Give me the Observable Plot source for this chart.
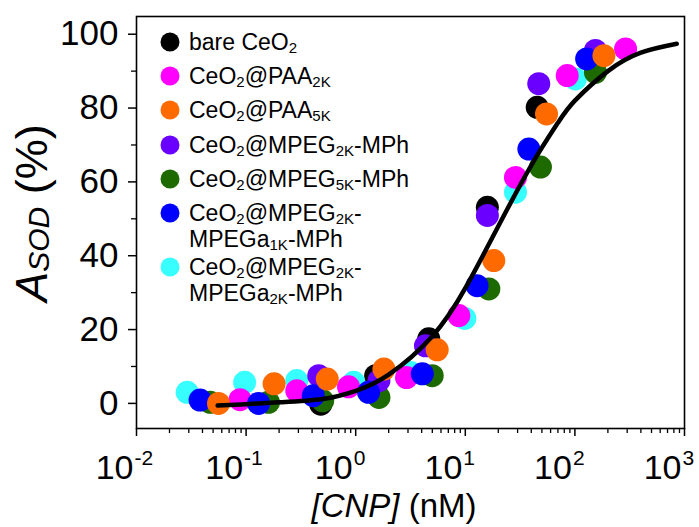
<!DOCTYPE html>
<html>
<head>
<meta charset="utf-8">
<script src="https://cdn.jsdelivr.net/npm/d3@7"></script>
<script src="https://cdn.jsdelivr.net/npm/@observablehq/plot@0.6"></script>
<style>
  html, body { margin: 0; padding: 0; background: #fff; }
  #chart { width: 699px; height: 527px; }
</style>
</head>
<body>
<div id="chart"></div>
<script>
// ---- Data ----
// concentrations in nM, A_SOD in %
const bareX   = [0.48, 1.52, 4.64, 15.9, 45.3];
const bareY   = [-0.2, 7.5, 17.5, 53.1, 80.2];
const paa2kX  = [0.088, 0.29, 0.86, 2.91, 8.73, 28.7, 85.1, 290];
const paa2kY  = [1.0, 3.4, 4.5, 7.0, 23.8, 61.2, 88.8, 96.0];
const paa5kX  = [0.056, 0.18, 0.55, 1.81, 5.54, 18.2, 55.1, 184];
const paa5kY  = [0.0, 5.3, 6.6, 9.3, 14.5, 38.7, 78.4, 94.2];
const mpeg2kX = [0.46, 1.63, 4.33, 15.9, 46.8, 154];
const mpeg2kY = [7.5, 6.2, 15.6, 50.9, 86.6, 95.6];
const mpeg5kX = [0.047, 0.16, 0.50, 1.63, 4.99, 16.4, 48.5, 154];
const mpeg5kY = [0.3, 0.3, 0.7, 1.6, 7.5, 31.0, 64.0, 89.7];
const a1kX    = [0.038, 0.13, 0.41, 1.31, 4.05, 12.8, 38.0, 128];
const a1kY    = [0.9, 0.0, 2.1, 3.0, 8.0, 31.9, 68.9, 93.3];
const a2kX    = [0.029, 0.097, 0.29, 0.96, 3.17, 9.9, 28.7, 101];
const a2kY    = [3.0, 5.7, 6.2, 5.7, 8.4, 23.0, 57.2, 87.9];

// fitted curve
const fitX = [0.055, 0.1, 0.2, 0.5, 1, 2, 5, 10, 20, 40, 70, 100, 200, 400, 850];
const fitY = [-0.6, -0.2, 0.3, 1.2, 3.4, 7.8, 18.2, 31.2, 48.0, 64.5, 76.0, 82.0, 90.0, 95.0, 97.4];

const seriesNames = ["bare CeO2", "CeO2@PAA2K", "CeO2@PAA5K", "CeO2@MPEG2K-MPh",
  "CeO2@MPEG5K-MPh", "CeO2@MPEG2K-MPEGa1K-MPh", "CeO2@MPEG2K-MPEGa2K-MPh"];
const seriesColors = ["#000000", "#ff00ff", "#ff6a00", "#6a00ff", "#1d6b00", "#0000ff", "#38ffff"];
// legend labels as [text, isSubscript] segments, one array per line
const legendLabels = [
  [[["bare CeO", 0], ["2", 1]]],
  [[["CeO", 0], ["2", 1], ["@PAA", 0], ["2K", 1]]],
  [[["CeO", 0], ["2", 1], ["@PAA", 0], ["5K", 1]]],
  [[["CeO", 0], ["2", 1], ["@MPEG", 0], ["2K", 1], ["-MPh", 0]]],
  [[["CeO", 0], ["2", 1], ["@MPEG", 0], ["5K", 1], ["-MPh", 0]]],
  [[["CeO", 0], ["2", 1], ["@MPEG", 0], ["2K", 1], ["-", 0]], [["MPEGa", 0], ["1K", 1], ["-MPh", 0]]],
  [[["CeO", 0], ["2", 1], ["@MPEG", 0], ["2K", 1], ["-", 0]], [["MPEGa", 0], ["2K", 1], ["-MPh", 0]]]
];

const xMajor = [0.01, 0.1, 1, 10, 100, 1000];
const xExpLabels = ["-2", "-1", "0", "1", "2", "3"];
const xMinor = [0.02,0.03,0.04,0.05,0.06,0.07,0.08,0.09,
                0.2,0.3,0.4,0.5,0.6,0.7,0.8,0.9,
                2,3,4,5,6,7,8,9,
                20,30,40,50,60,70,80,90,
                200,300,400,500,600,700,800,900];
const yMajor = [0, 20, 40, 60, 80, 100];
const yMinor = [10, 30, 50, 70, 90];

// ---- build table ----
const seriesX = [bareX, paa2kX, paa5kX, mpeg2kX, mpeg5kX, a1kX, a2kX];
const seriesY = [bareY, paa2kY, paa5kY, mpeg2kY, mpeg5kY, a1kY, a2kY];
// drawing order (bottom to top) as seen in the reference
const drawOrder = [0, 6, 1, 4, 3, 5, 2];
const points = [];
for (const s of drawOrder) {
  seriesX[s].forEach((x, i) => points.push({x, y: seriesY[s][i], s: seriesNames[s]}));
}
const fit = fitX.map((x, i) => ({x, y: fitY[i]}));

const FONT = "'Liberation Sans', Arial, Helvetica, sans-serif";

const chart = Plot.plot({
  width: 699,
  height: 527,
  marginLeft: 136,
  marginRight: 15,
  marginTop: 16,
  marginBottom: 99,
  style: {fontFamily: FONT, color: "black", background: "white", overflow: "visible"},
  x: {type: "log", domain: [0.01, 1000]},
  y: {domain: [-6.8, 104.8]},
  color: {domain: seriesNames, range: seriesColors},
  marks: [
    Plot.axisX({ticks: xMinor, tickSize: 5, tickFormat: () => "", label: null, strokeWidth: 1.3}),
    Plot.axisX({ticks: xMajor, tickSize: 8, tickFormat: () => "", label: null, strokeWidth: 1.5}),
    Plot.axisY({ticks: yMinor, tickSize: 5, tickFormat: () => "", label: null, strokeWidth: 1.3}),
    Plot.axisY({ticks: yMajor, tickSize: 8, tickPadding: 10, fontSize: 35, label: null, strokeWidth: 1.5}),
    Plot.text(xMajor, {x: d => d, frameAnchor: "bottom", dy: 50, dx: -3, text: () => "10",
      textAnchor: "end", lineAnchor: "bottom", fontSize: 34, fill: "black"}),
    Plot.text(xMajor, {x: d => d, frameAnchor: "bottom", dy: 36, dx: -2, text: (d, i) => xExpLabels[i],
      textAnchor: "start", lineAnchor: "bottom", fontSize: 21, fill: "black"}),
    Plot.dot(points, {x: "x", y: "y", fill: "s", r: 11.5, stroke: null}),
    Plot.line(fit, {x: "x", y: "y", curve: "natural", stroke: "black", strokeWidth: 4.5}),
    Plot.frame({stroke: "black", strokeWidth: 1.6})
  ]
});
document.getElementById("chart").appendChild(chart);

// ---- rich text: axis titles and legend ----
const svg = d3.select(chart);

// y title
const yt = svg.append("text")
  .attr("transform", "translate(47,213) rotate(-90)")
  .attr("text-anchor", "middle")
  .attr("font-family", FONT)
  .attr("fill", "black");
yt.append("tspan").attr("font-size", 45).attr("font-style", "italic").text("A");
yt.append("tspan").attr("font-size", 30).attr("font-style", "italic").attr("dy", 2).text("SOD");
yt.append("tspan").attr("font-size", 45).attr("dy", -2).text(" (%)");

// x title
const xt = svg.append("text")
  .attr("x", 394).attr("y", 517)
  .attr("text-anchor", "middle")
  .attr("font-family", FONT)
  .attr("font-size", 33)
  .attr("fill", "black");
xt.append("tspan").attr("font-style", "italic").text("[CNP]");
xt.append("tspan").text(" (nM)");

// legend
const rowCenters = [42, 76, 110, 145, 179, 213, 267];
const lg = svg.append("g").attr("font-family", FONT).attr("fill", "black").attr("text-anchor", "start");
legendLabels.forEach((lines, k) => {
  const cy = rowCenters[k];
  lg.append("circle").attr("cx", 170).attr("cy", cy).attr("r", 9.5).attr("fill", seriesColors[k]);
  lines.forEach((segs, li) => {
    const t = lg.append("text").attr("x", 189).attr("y", cy + 8 + li * 26)
      .attr("font-size", 23).attr("text-anchor", "start");
    let shifted = false;
    segs.forEach(([txt, sub]) => {
      const sp = t.append("tspan").text(txt);
      if (sub && !shifted) { sp.attr("font-size", 15).attr("dy", 3); shifted = true; }
      else if (!sub && shifted) { sp.attr("dy", -3); shifted = false; }
      else if (sub) sp.attr("font-size", 15);
    });
  });
});
</script>
</body>
</html>
